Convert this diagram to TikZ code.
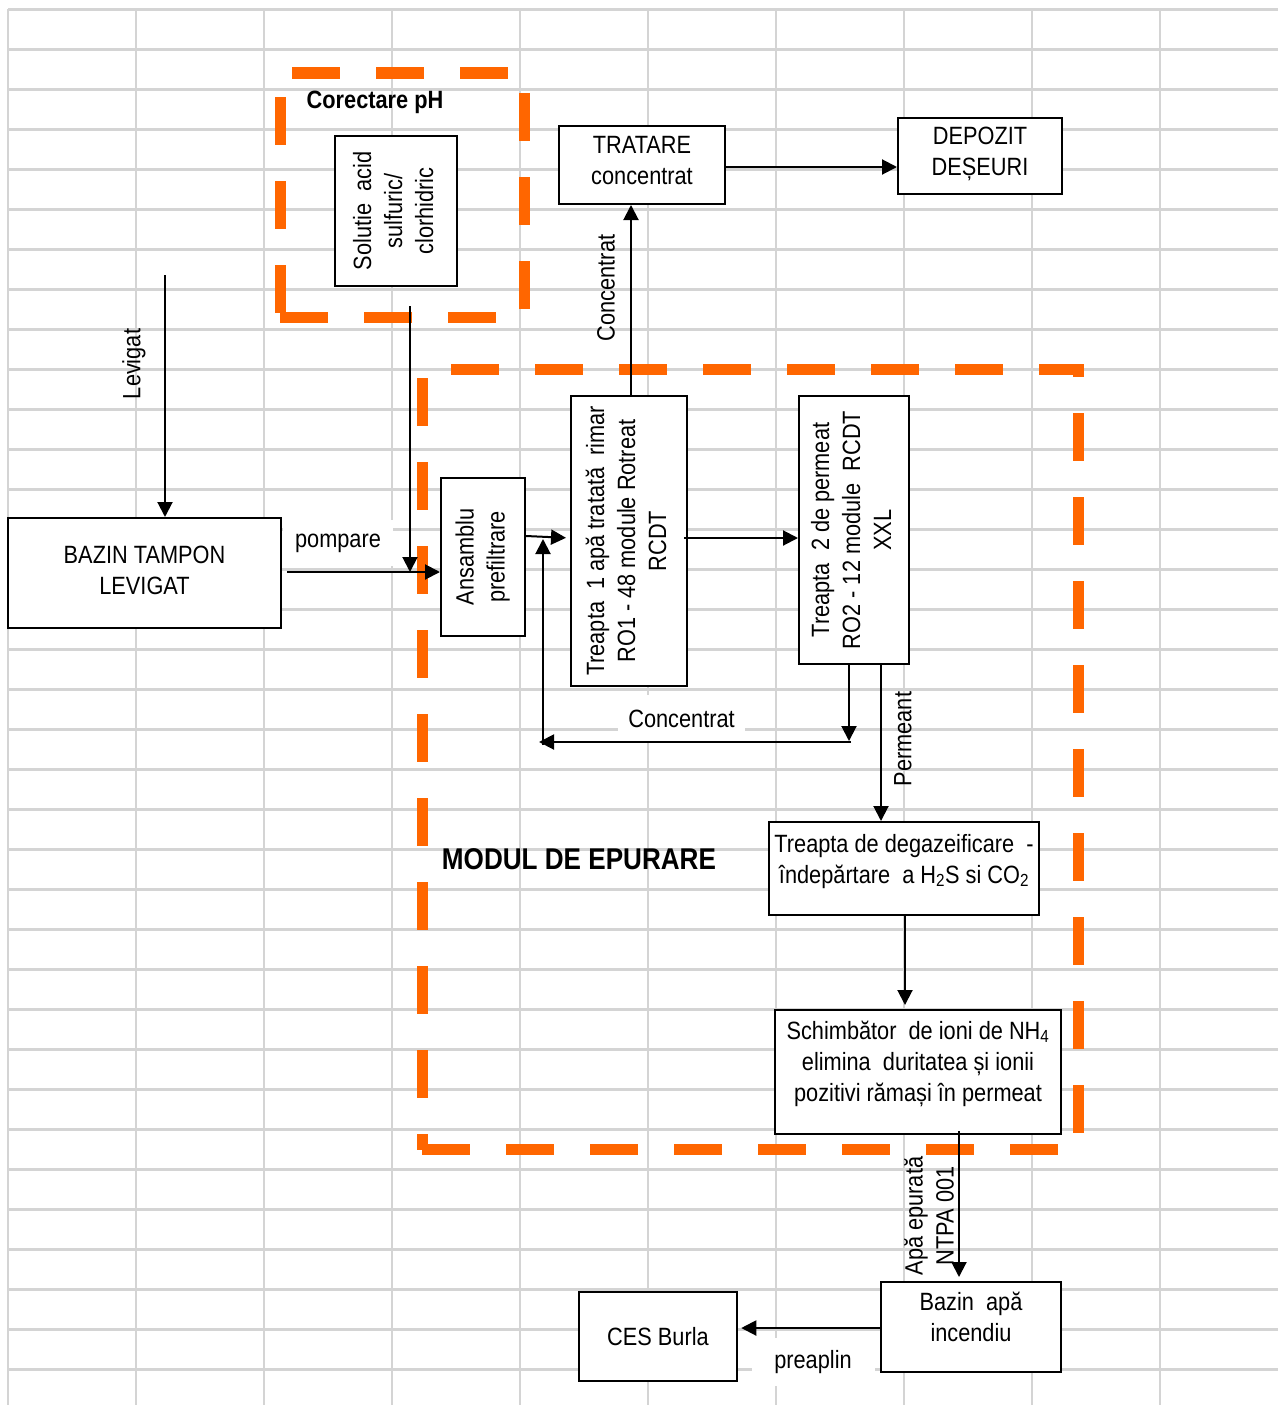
\documentclass[tikz,border=0pt]{standalone}
\usepackage{fontspec}
\setmainfont{Liberation Sans}[FakeStretch=0.87]
\usepackage{graphicx}
\usetikzlibrary{arrows.meta}
\definecolor{gridgray}{RGB}{212,212,212}
\definecolor{zoneorange}{RGB}{255,102,0}
% centred block of lines, optionally lifted inside its box
\newcommand{\boxlines}[2]{\raisebox{#1}[\height][\depth]{\begin{tabular}{@{}c@{}}#2\end{tabular}}}
% block of lines reading bottom to top
\newcommand{\uplines}[1]{\rotatebox{90}{\begin{tabular}{@{}c@{}}#1\end{tabular}}}

\begin{document}
\begin{tikzpicture}[x=1pt,y=-1pt,
  gridline/.style={draw=gridgray,line width=2.5pt},
  zone/.style={draw=zoneorange,line width=11pt,dash pattern=on 48pt off 36pt},
  unit/.style={draw=black,line width=2pt,fill=white,inner sep=0pt,font=\fontsize{25}{31}\selectfont},
  tag/.style={inner sep=0pt,font=\fontsize{25}{31}\selectfont},
  whitetag/.style={tag,fill=white},
  flow/.style={draw=black,line width=2pt,-{Triangle[length=15pt,width=15pt]}},
  title/.style={inner sep=0pt,font=\bfseries\fontsize{25}{31}\selectfont}]

\useasboundingbox (0,0) rectangle (1278,1405);
\fill[white] (0,0) rectangle (1278,1405);

% sheet grid
\foreach \i in {0,...,9} \draw[gridline] ({8+128*\i},9) -- ({8+128*\i},1405);
\foreach \j in {0,...,34} \draw[gridline] (8,{9.3+40*\j}) -- (1278,{9.3+40*\j});

% flow labels on white ground
\node[whitetag,minimum width=110pt,minimum height=46pt] (pumplabel) at (338,543) {pompare};
\node[whitetag,minimum width=127pt,minimum height=47pt] (retlabel) at (681.5,718.5) {Concentrat};
\node[whitetag,minimum width=123pt,minimum height=48pt] (overlabel) at (813,1362) {preaplin};

% pH correction zone
\draw[zone] (292,73) -- (508,73);
\draw[zone] (280,97) -- (280,313);
\draw[zone] (280,317) -- (496,317);
\draw[zone] (524.5,93) -- (524.5,309);

% treatment module zone
\draw[zone] (451,369) -- (1083.5,369);
\draw[zone,dash phase=40pt] (1078,369) -- (1078,1133);
\draw[zone] (422,378) -- (422,1150);
\draw[zone] (422,1149) -- (1058,1149);

% process units
\node[unit,minimum width=122pt,minimum height=150pt] (acid) at (396,211) {\uplines{Solutie\ \ acid\\sulfuric/\\clorhidric}};
\node[unit,minimum width=166pt,minimum height=78pt] (tratare) at (642,165) {\boxlines{2pt}{TRATARE\\concentrat}};
\node[unit,minimum width=164pt,minimum height=76pt] (depozit) at (980,156) {\boxlines{2.5pt}{DEPOZIT\\DEȘEURI}};
\node[unit,minimum width=273pt,minimum height=110pt] (bazin) at (144.5,573) {\boxlines{0pt}{BAZIN TAMPON\\LEVIGAT}};
\node[unit,minimum width=84pt,minimum height=158pt] (ansamblu) at (483,557) {\uplines{Ansamblu\\prefiltrare}};
\node[unit,minimum width=116pt,minimum height=290pt] (treapta1) at (629,541) {\uplines{Treapta\ \ 1 apă tratată\ \ rimar\\RO1 - 48 module Rotreat\\RCDT}};
\node[unit,minimum width=110pt,minimum height=268pt] (treapta2) at (854,530) {\uplines{Treapta\ \ 2 de permeat\\RO2 - 12 module\ \ RCDT\\XXL}};
\node[unit,minimum width=270pt,minimum height=93pt] (degaz) at (904,868.5) {\boxlines{7pt}{Treapta de degazeificare\ \ -\\îndepărtare\ \ a H\textsubscript{2}S si CO\textsubscript{2}}};
\node[unit,minimum width=286pt,minimum height=124pt] (schimb) at (918,1072) {\boxlines{8pt}{Schimbător\ \ de ioni de NH\textsubscript{4}\\elimina\ \ duritatea și ionii\\pozitivi rămași în permeat}};
\node[unit,minimum width=180pt,minimum height=90pt] (incendiu) at (971,1327) {\boxlines{7.5pt}{Bazin\ \ apă\\incendiu}};
\node[unit,minimum width=158.5pt,minimum height=89pt] (ces) at (658,1336.5) {CES Burla};

% titles and side labels
\node[title] (phtitle) at (375,102) {Corectare pH};
\node[title,font=\bfseries\fontsize{30}{36}\selectfont] (modtitle) at (579,859) {MODUL DE EPURARE};
\node[tag,rotate=90] (levlabel) at (134,364) {Levigat};
\node[tag,rotate=90] (conclabel) at (606,288) {Concentrat};
\node[tag,rotate=90] (permlabel) at (903,739) {Permeant};
\node[tag,rotate=90,align=center] (apalabel) at (929,1216) {Apă epurată\\NTPA 001};

% flows
\coordinate (levin) at (165,275);
\draw[flow] (levin) -- (levin |- bazin.north);
\coordinate (acidout) at (410,306);
\coordinate (acidjoin) at (410,572);
\draw[flow] (acidout) -- (acidjoin);
\coordinate (pumpout) at (287,572);
\draw[flow] (pumpout) -- (pumpout -| ansamblu.west);
\draw[flow,shorten >=4pt] ([yshift=21pt]ansamblu.east) -- ([yshift=3pt]treapta1.west);
\draw[flow] ([xshift=-4pt,yshift=3pt]treapta1.east) -- ([yshift=-8pt]treapta2.west);
\draw[flow] ([xshift=2pt]treapta1.north) -- ([xshift=-11pt]tratare.south);
\draw[flow] ([yshift=-2pt]tratare.east) -- ([yshift=-11pt]depozit.west);

% concentrate returned to the first stage
\coordinate (retdown) at (849,741);
\coordinate (retstart) at (851,742);
\coordinate (retend) at (539,742);
\coordinate (retfoot) at (543,745);
\coordinate (rettop) at (543,539);
\draw[flow] ([xshift=-5pt]treapta2.south) -- (retdown);
\draw[flow] (retstart) -- (retend);
\draw[flow] (retfoot) -- (rettop);

\draw[flow] ([xshift=27pt]treapta2.south) -- ([xshift=-23pt]degaz.north);
\draw[flow,shorten >=4pt] ([xshift=1pt]degaz.south) -- ([xshift=-13pt]schimb.north);
\draw[flow,shorten >=4pt] ([xshift=41pt,yshift=4pt]schimb.south) -- ([xshift=-12pt]incendiu.north);
\draw[flow,shorten >=3pt] ([yshift=-1pt]incendiu.west) -- ([yshift=8.5pt]ces.east);

\end{tikzpicture}
\end{document}
